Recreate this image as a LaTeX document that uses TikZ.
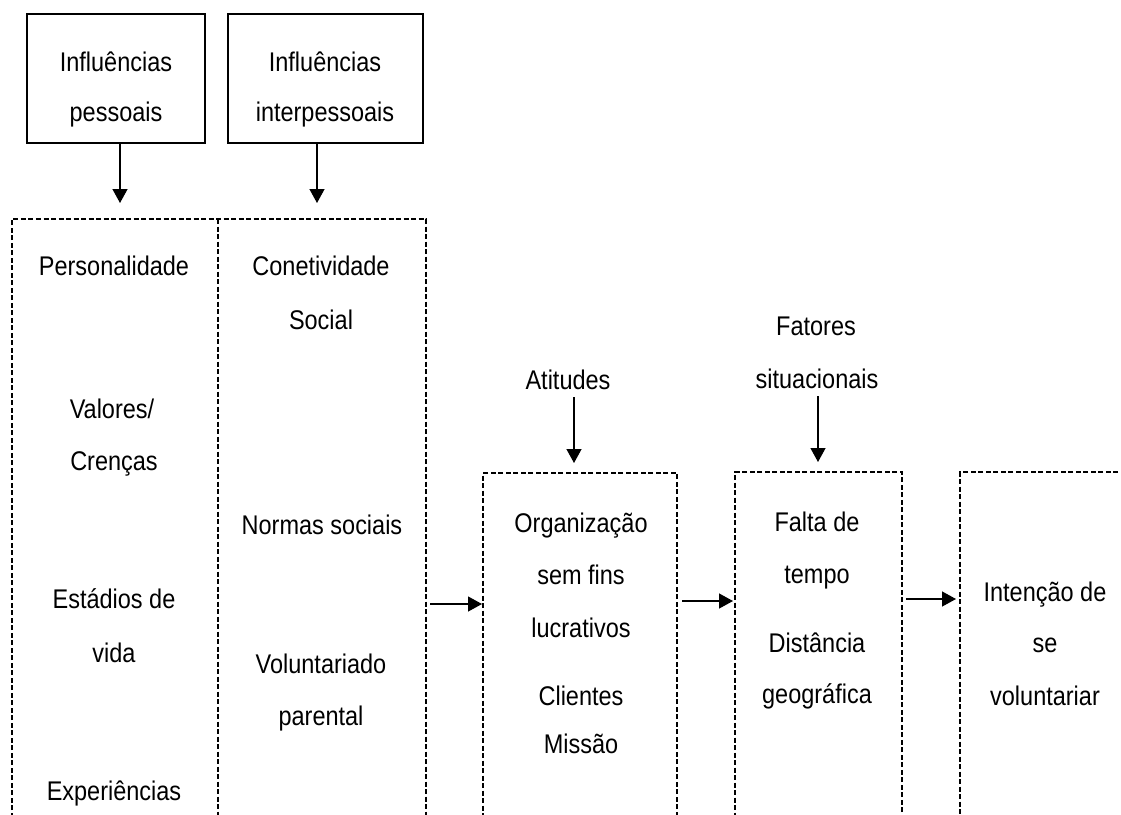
\documentclass[tikz,border=0pt]{standalone}
\usepackage{fontspec}
\setmainfont{Liberation Sans}[FakeStretch=0.87]
\usetikzlibrary{arrows.meta}
\begin{document}
\begin{tikzpicture}[x=1pt,y=-1pt,
  solidbox/.style={draw,line width=1.4pt,inner sep=0pt,outer sep=0pt,rectangle},
  area/.style={inner sep=0pt,outer sep=0pt,rectangle},
  dashline/.style={line width=1.3pt,dash pattern=on 5pt off 2.5pt},
  dashbox/.style={draw,dashline,inner sep=0pt,outer sep=0pt,rectangle},
  lbl/.style={anchor=base,inner sep=0pt,outer sep=0pt,font=\fontsize{27}{30}\selectfont},
  arr/.style={-{Triangle[length=14pt,width=15pt]},line width=1.3pt}]
\useasboundingbox (0,0) rectangle (1121,814);
\clip (0,0) rectangle (1121,814);

% boxes
\node[solidbox,minimum width=178pt,minimum height=129pt] (inflP) at (116,78.5) {};
\node[solidbox,minimum width=195pt,minimum height=129pt] (inflI) at (325.5,78.5) {};
\node[area,minimum width=206pt,minimum height=621pt] (pers) at (115,529.5) {};
\node[area,minimum width=208pt,minimum height=621pt] (inter) at (322,529.5) {};
\draw[dashline] (pers.south west) -- (pers.north west) -- (inter.north east) -- (inter.south east);
\draw[dashline] (pers.north east) -- (pers.south east);
\node[dashbox,minimum width=194pt,minimum height=367pt] (org) at (580,656.5) {};
\node[dashbox,minimum width=167pt,minimum height=368pt] (sit) at (818.5,656) {};
\node[dashbox,minimum width=180pt,minimum height=368pt] (int) at (1050,656) {};

% texts in top boxes
\node[lbl] (p1) at (116,71) {Influências};
\node[lbl] (p2) at (116,121) {pessoais};
\node[lbl] (i1) at (325,71) {Influências};
\node[lbl] (i2) at (325,121) {interpessoais};

% column 1
\node[lbl] (c1a) at (114,275) {Personalidade};
\node[lbl] (c1b) at (112,418) {Valores/};
\node[lbl] (c1c) at (114,470) {Crenças};
\node[lbl] (c1d) at (114,608) {Estádios de};
\node[lbl] (c1e) at (114,662) {vida};
\node[lbl] (c1f) at (114,800) {Experiências};

% column 2
\node[lbl] (c2a) at (321,275) {Conetividade};
\node[lbl] (c2b) at (321,329) {Social};
\node[lbl] (c2c) at (322,534) {Normas sociais};
\node[lbl] (c2d) at (321,673) {Voluntariado};
\node[lbl] (c2e) at (321,725) {parental};

% upper labels
\node[lbl] (att) at (568,389) {Atitudes};
\node[lbl] (fat1) at (816,335) {Fatores};
\node[lbl] (fat2) at (817,388) {situacionais};

% box 3
\node[lbl] (o1) at (581,532) {Organização};
\node[lbl] (o2) at (581,584) {sem fins};
\node[lbl] (o3) at (581,637) {lucrativos};
\node[lbl] (o4) at (581,705) {Clientes};
\node[lbl] (o5) at (581,753) {Missão};

% box 4
\node[lbl] (s1) at (817,531) {Falta de};
\node[lbl] (s2) at (817,583) {tempo};
\node[lbl] (s3) at (817,652) {Distância};
\node[lbl] (s4) at (817,703) {geográfica};

% box 5
\node[lbl] (n1) at (1045,601) {Intenção de};
\node[lbl] (n2) at (1045,652) {se};
\node[lbl] (n3) at (1045,705) {voluntariar};

% connector guides
\coordinate (v1) at (120,0);
\coordinate (v2) at (317,0);
\coordinate (v3) at (574,0);
\coordinate (v4) at (818,0);
\coordinate (h1) at (0,604);
\coordinate (h2) at (0,601);
\coordinate (h3) at (0,599);

% vertical arrows
\draw[arr,shorten >=16pt] (inflP.south -| v1) -- (pers.north -| v1);
\draw[arr,shorten >=16pt] (inflI.south -| v2) -- (inter.north -| v2);
\draw[arr,shorten <=8pt,shorten >=10pt] (att.south -| v3) -- (org.north -| v3);
\draw[arr,shorten <=8pt,shorten >=10pt] (fat2.south -| v4) -- (sit.north -| v4);

% horizontal arrows
\draw[arr,shorten <=4pt,shorten >=1pt] (inter.east |- h1) -- (org.west |- h1);
\draw[arr,shorten <=5pt,shorten >=2pt] (org.east |- h2) -- (sit.west |- h2);
\draw[arr,shorten <=4pt,shorten >=4pt] (sit.east |- h3) -- (int.west |- h3);
\end{tikzpicture}
\end{document}
